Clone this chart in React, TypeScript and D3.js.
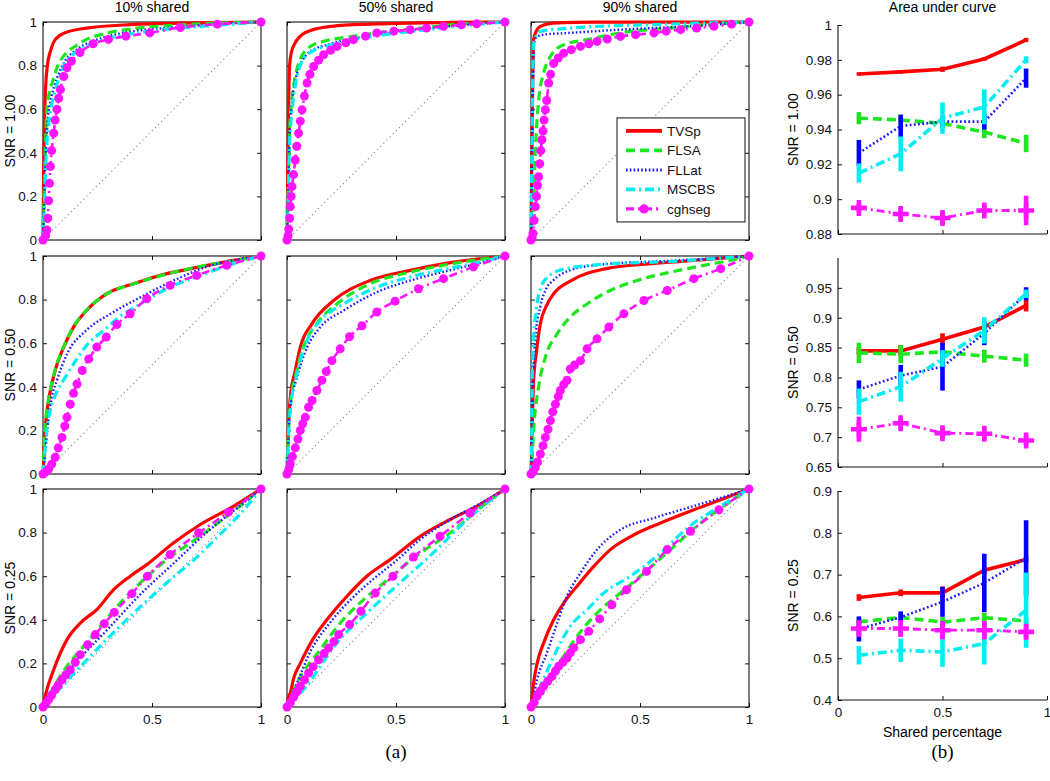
import React, { useEffect, useRef } from 'react';
import * as d3 from 'd3';

const WIDTH = 1050;
const HEIGHT = 781;

type Pt = [number, number];

const METHODS = ['TVSp', 'FLSA', 'FLLat', 'MSCBS', 'cghseg'];
const SNR_LABELS = ['SNR = 1.00', 'SNR = 0.50', 'SNR = 0.25'];
const SHARED_TITLES = ['10% shared', '50% shared', '90% shared'];
const ROC_TICKS_X = [0, 0.5, 1];
const ROC_TICKS_Y = [0, 0.2, 0.4, 0.6, 0.8, 1];
const SHARED_PCT = [0.1, 0.3, 0.5, 0.7, 0.9];
const AUC_TICKS_X = [0, 0.5, 1];
const AUC_YLIM: Pt[] = [[0.88, 1], [0.65, 1], [0.4, 0.9]];
const AUC_TICKS_Y = [
  [0.88, 0.9, 0.92, 0.94, 0.96, 0.98, 1],
  [0.65, 0.7, 0.75, 0.8, 0.85, 0.9, 0.95],
  [0.4, 0.5, 0.6, 0.7, 0.8, 0.9],
];

// ROC curves (false positive rate, true positive rate), one list per method
// order: TVSp, FLSA, FLLat, MSCBS, cghseg
const ROC_100_10: Pt[][] = [
  [[0,0],[0.003,0.3],[0.007,0.55],[0.012,0.7],[0.02,0.8],[0.034,0.865],[0.056,0.919],[0.1,0.95],[0.2,0.972],[0.4,0.988],[0.7,0.996],[1,1]],
  [[0,0],[0.005,0.2],[0.012,0.45],[0.018,0.6],[0.03,0.68],[0.045,0.73],[0.064,0.79],[0.1,0.85],[0.15,0.89],[0.2,0.92],[0.3,0.95],[0.42,0.97],[0.6,0.985],[0.8,0.995],[1,1]],
  [[0,0],[0.006,0.2],[0.014,0.42],[0.022,0.55],[0.035,0.64],[0.05,0.7],[0.075,0.77],[0.1,0.82],[0.15,0.87],[0.25,0.92],[0.4,0.955],[0.6,0.975],[0.8,0.99],[1,1]],
  [[0,0],[0.006,0.15],[0.015,0.4],[0.025,0.52],[0.04,0.62],[0.06,0.7],[0.08,0.76],[0.1,0.81],[0.15,0.86],[0.25,0.91],[0.4,0.945],[0.6,0.97],[0.8,0.985],[1,1]],
  [[0,0],[0.012,0.02],[0.018,0.046],[0.022,0.1],[0.026,0.18],[0.03,0.26],[0.034,0.337],[0.04,0.41],[0.049,0.49],[0.056,0.55],[0.064,0.6],[0.072,0.65],[0.08,0.69],[0.095,0.75],[0.11,0.79],[0.13,0.82],[0.17,0.86],[0.23,0.9],[0.3,0.92],[0.38,0.935],[0.49,0.95],[0.63,0.975],[0.8,0.99],[1,1]],
];
const ROC_100_50: Pt[][] = [
  [[0,0],[0.004,0.35],[0.008,0.65],[0.012,0.8],[0.02,0.86],[0.03,0.89],[0.06,0.934],[0.12,0.965],[0.23,0.983],[0.46,0.993],[0.75,0.998],[1,1]],
  [[0,0],[0.006,0.25],[0.012,0.5],[0.02,0.62],[0.038,0.75],[0.061,0.83],[0.107,0.888],[0.168,0.911],[0.3,0.934],[0.46,0.957],[0.61,0.972],[0.76,0.988],[1,1]],
  [[0,0],[0.006,0.25],[0.012,0.48],[0.02,0.6],[0.04,0.74],[0.06,0.8],[0.1,0.86],[0.2,0.9],[0.4,0.94],[0.6,0.965],[0.8,0.985],[1,1]],
  [[0,0],[0.006,0.22],[0.012,0.45],[0.022,0.58],[0.04,0.72],[0.06,0.8],[0.1,0.855],[0.2,0.895],[0.4,0.935],[0.6,0.96],[0.8,0.982],[1,1]],
  [[0,0],[0.005,0.02],[0.008,0.05],[0.012,0.1],[0.015,0.153],[0.019,0.2],[0.023,0.245],[0.03,0.3],[0.038,0.367],[0.045,0.43],[0.053,0.49],[0.061,0.545],[0.069,0.597],[0.08,0.66],[0.092,0.72],[0.105,0.76],[0.122,0.796],[0.145,0.825],[0.168,0.85],[0.2,0.87],[0.229,0.888],[0.27,0.905],[0.305,0.919],[0.36,0.935],[0.412,0.95],[0.49,0.958],[0.565,0.965],[0.64,0.972],[0.718,0.98],[0.8,0.987],[0.87,0.992],[1,1]],
];
const ROC_100_90: Pt[][] = [
  [[0,0],[0.004,0.4],[0.008,0.75],[0.012,0.92],[0.025,0.96],[0.043,0.98],[0.1,0.995],[0.3,0.999],[1,1]],
  [[0,0],[0.006,0.1],[0.012,0.18],[0.02,0.41],[0.035,0.64],[0.058,0.766],[0.089,0.842],[0.15,0.896],[0.257,0.919],[0.41,0.95],[0.64,0.972],[0.87,0.992],[1,1]],
  [[0,0],[0.005,0.4],[0.01,0.75],[0.015,0.9],[0.025,0.93],[0.058,0.942],[0.18,0.95],[0.41,0.965],[0.72,0.98],[1,1]],
  [[0,0],[0.004,0.4],[0.008,0.75],[0.012,0.9],[0.025,0.94],[0.043,0.957],[0.18,0.972],[0.56,0.988],[1,1]],
  [[0,0],[0.005,0.01],[0.009,0.03],[0.014,0.09],[0.02,0.153],[0.025,0.2],[0.03,0.25],[0.035,0.29],[0.04,0.35],[0.045,0.41],[0.05,0.46],[0.055,0.5],[0.06,0.55],[0.066,0.597],[0.072,0.64],[0.081,0.72],[0.09,0.76],[0.104,0.81],[0.125,0.835],[0.15,0.857],[0.185,0.873],[0.227,0.888],[0.265,0.9],[0.303,0.911],[0.35,0.922],[0.41,0.934],[0.48,0.942],[0.564,0.95],[0.62,0.958],[0.686,0.965],[0.76,0.972],[0.839,0.98],[0.92,0.99],[1,1]],
];
const ROC_050_10: Pt[][] = [
  [[0,0],[0.003,0.05],[0.006,0.15],[0.011,0.22],[0.02,0.3],[0.034,0.383],[0.056,0.475],[0.095,0.582],[0.14,0.674],[0.2,0.75],[0.293,0.827],[0.415,0.873],[0.568,0.919],[0.72,0.95],[0.873,0.98],[1,1]],
  [[0,0],[0.003,0.06],[0.006,0.16],[0.011,0.23],[0.02,0.31],[0.034,0.39],[0.056,0.48],[0.095,0.585],[0.14,0.675],[0.2,0.752],[0.293,0.826],[0.415,0.872],[0.568,0.917],[0.72,0.952],[0.873,0.978],[1,1]],
  [[0,0],[0.005,0.05],[0.01,0.1],[0.018,0.18],[0.026,0.26],[0.04,0.35],[0.064,0.43],[0.11,0.55],[0.2,0.66],[0.31,0.735],[0.446,0.81],[0.6,0.888],[0.75,0.95],[0.9,0.985],[1,1]],
  [[0,0],[0.005,0.06],[0.012,0.15],[0.02,0.22],[0.035,0.3],[0.06,0.37],[0.1,0.44],[0.15,0.52],[0.2,0.59],[0.28,0.66],[0.35,0.72],[0.446,0.78],[0.568,0.85],[0.72,0.91],[0.873,0.965],[1,1]],
  [[0,0],[0.013,0.01],[0.026,0.023],[0.04,0.045],[0.056,0.077],[0.07,0.12],[0.087,0.168],[0.1,0.22],[0.11,0.26],[0.125,0.32],[0.14,0.37],[0.156,0.413],[0.18,0.475],[0.21,0.528],[0.247,0.582],[0.29,0.628],[0.339,0.686],[0.4,0.735],[0.476,0.804],[0.583,0.865],[0.705,0.911],[0.843,0.957],[1,1]],
];
const ROC_050_50: Pt[][] = [
  [[0,0],[0.003,0.12],[0.008,0.25],[0.015,0.35],[0.038,0.475],[0.061,0.582],[0.115,0.69],[0.214,0.796],[0.382,0.888],[0.565,0.934],[0.763,0.972],[1,1]],
  [[0,0],[0.004,0.12],[0.008,0.22],[0.015,0.32],[0.038,0.444],[0.076,0.582],[0.137,0.69],[0.229,0.78],[0.382,0.873],[0.565,0.926],[0.779,0.968],[1,1]],
  [[0,0],[0.004,0.1],[0.008,0.2],[0.015,0.3],[0.046,0.444],[0.092,0.58],[0.153,0.674],[0.26,0.75],[0.412,0.834],[0.595,0.896],[0.779,0.942],[0.92,0.978],[1,1]],
  [[0,0],[0.004,0.1],[0.008,0.2],[0.015,0.29],[0.046,0.46],[0.092,0.613],[0.153,0.704],[0.26,0.78],[0.412,0.857],[0.595,0.911],[0.779,0.95],[0.916,0.98],[1,1]],
  [[0,0],[0.008,0.02],[0.015,0.046],[0.025,0.08],[0.038,0.12],[0.05,0.16],[0.061,0.2],[0.072,0.23],[0.084,0.26],[0.099,0.306],[0.115,0.337],[0.137,0.383],[0.16,0.43],[0.18,0.47],[0.206,0.52],[0.244,0.574],[0.287,0.63],[0.344,0.68],[0.412,0.743],[0.496,0.793],[0.603,0.85],[0.718,0.896],[0.855,0.95],[1,1]],
];
const ROC_050_90: Pt[][] = [
  [[0,0],[0.003,0.1],[0.005,0.2],[0.008,0.32],[0.012,0.43],[0.025,0.56],[0.043,0.69],[0.07,0.77],[0.104,0.827],[0.18,0.885],[0.334,0.94],[0.564,0.966],[0.793,0.983],[1,1]],
  [[0,0],[0.005,0.07],[0.012,0.2],[0.035,0.4],[0.066,0.536],[0.12,0.643],[0.18,0.72],[0.257,0.78],[0.364,0.842],[0.487,0.888],[0.64,0.926],[0.793,0.957],[0.93,0.983],[1,1]],
  [[0,0],[0.004,0.2],[0.01,0.45],[0.02,0.62],[0.043,0.77],[0.07,0.85],[0.104,0.89],[0.18,0.935],[0.334,0.962],[0.64,0.978],[1,1]],
  [[0,0],[0.003,0.2],[0.006,0.45],[0.012,0.62],[0.025,0.76],[0.043,0.85],[0.073,0.9],[0.15,0.94],[0.334,0.962],[0.64,0.975],[1,1]],
  [[0,0],[0.01,0.01],[0.02,0.03],[0.03,0.055],[0.043,0.092],[0.055,0.13],[0.066,0.168],[0.078,0.205],[0.089,0.245],[0.1,0.285],[0.112,0.32],[0.125,0.355],[0.135,0.383],[0.15,0.41],[0.165,0.43],[0.18,0.482],[0.2,0.5],[0.227,0.52],[0.257,0.574],[0.303,0.62],[0.357,0.674],[0.426,0.735],[0.518,0.796],[0.625,0.842],[0.747,0.896],[0.87,0.942],[1,1]],
];
const ROC_025_10: Pt[][] = [
  [[0,0],[0.008,0.04],[0.018,0.08],[0.049,0.171],[0.11,0.309],[0.171,0.385],[0.247,0.447],[0.324,0.538],[0.4,0.6],[0.476,0.653],[0.598,0.752],[0.72,0.836],[0.873,0.92],[1,1]],
  [[0,0],[0.034,0.064],[0.11,0.187],[0.186,0.278],[0.263,0.37],[0.354,0.477],[0.446,0.569],[0.568,0.676],[0.72,0.783],[0.873,0.898],[1,1]],
  [[0,0],[0.05,0.07],[0.15,0.2],[0.3,0.36],[0.45,0.52],[0.6,0.66],[0.75,0.8],[0.9,0.92],[1,1]],
  [[0,0],[0.11,0.12],[0.263,0.28],[0.415,0.43],[0.568,0.57],[0.72,0.7],[0.8,0.78],[0.9,0.88],[1,1]],
  [[0,0],[0.013,0.015],[0.026,0.034],[0.04,0.055],[0.056,0.08],[0.07,0.1],[0.087,0.125],[0.105,0.148],[0.125,0.171],[0.148,0.205],[0.171,0.24],[0.205,0.286],[0.24,0.332],[0.281,0.382],[0.327,0.434],[0.408,0.52],[0.479,0.6],[0.583,0.699],[0.714,0.798],[0.85,0.893],[1,1]],
];
const ROC_025_50: Pt[][] = [
  [[0,0],[0.005,0.04],[0.015,0.064],[0.03,0.13],[0.061,0.2],[0.122,0.316],[0.183,0.4],[0.275,0.508],[0.366,0.6],[0.473,0.676],[0.611,0.783],[0.748,0.86],[0.87,0.92],[1,1]],
  [[0,0],[0.046,0.11],[0.153,0.263],[0.244,0.385],[0.351,0.492],[0.443,0.569],[0.611,0.706],[0.748,0.798],[0.885,0.913],[1,1]],
  [[0,0],[0.02,0.05],[0.05,0.12],[0.1,0.24],[0.2,0.39],[0.3,0.5],[0.4,0.59],[0.5,0.67],[0.6,0.76],[0.75,0.86],[0.88,0.93],[1,1]],
  [[0,0],[0.076,0.08],[0.229,0.294],[0.382,0.446],[0.534,0.584],[0.687,0.722],[0.809,0.844],[1,1]],
  [[0,0],[0.015,0.02],[0.03,0.045],[0.045,0.07],[0.061,0.095],[0.08,0.125],[0.099,0.156],[0.12,0.185],[0.145,0.217],[0.17,0.245],[0.191,0.271],[0.215,0.3],[0.237,0.332],[0.287,0.378],[0.339,0.439],[0.405,0.523],[0.486,0.6],[0.58,0.688],[0.702,0.783],[0.84,0.89],[1,1]],
];
const ROC_025_90: Pt[][] = [
  [[0,0],[0.005,0.05],[0.015,0.13],[0.028,0.2],[0.058,0.294],[0.104,0.4],[0.15,0.477],[0.211,0.554],[0.288,0.645],[0.364,0.722],[0.472,0.79],[0.594,0.844],[0.747,0.905],[0.87,0.951],[1,1]],
  [[0,0],[0.043,0.08],[0.12,0.187],[0.211,0.324],[0.303,0.431],[0.41,0.523],[0.518,0.615],[0.64,0.722],[0.778,0.844],[0.916,0.943],[1,1]],
  [[0,0],[0.01,0.04],[0.028,0.125],[0.073,0.248],[0.12,0.385],[0.165,0.508],[0.227,0.615],[0.303,0.722],[0.41,0.813],[0.564,0.867],[0.717,0.913],[0.87,0.959],[1,1]],
  [[0,0],[0.043,0.095],[0.104,0.232],[0.18,0.37],[0.257,0.446],[0.334,0.523],[0.456,0.6],[0.594,0.706],[0.717,0.821],[0.855,0.913],[1,1]],
  [[0,0],[0.014,0.02],[0.028,0.05],[0.043,0.072],[0.058,0.095],[0.077,0.118],[0.096,0.14],[0.112,0.165],[0.127,0.187],[0.146,0.205],[0.165,0.225],[0.18,0.248],[0.196,0.271],[0.227,0.309],[0.265,0.347],[0.315,0.404],[0.371,0.469],[0.438,0.538],[0.53,0.622],[0.625,0.722],[0.732,0.806],[0.862,0.905],[1,1]],
];

const ROC_GRID: Pt[][][][] = [
  [ROC_100_10, ROC_100_50, ROC_100_90],
  [ROC_050_10, ROC_050_50, ROC_050_90],
  [ROC_025_10, ROC_025_50, ROC_025_90],
];

// area under curve vs shared percentage: mean and half-length of error bar
const AUC_100_MEAN = [
  [0.9719, 0.9731, 0.9746, 0.9805, 0.9914],
  [0.9465, 0.9455, 0.9435, 0.9385, 0.932],
  [0.9265, 0.942, 0.9445, 0.9445, 0.9695],
  [0.915, 0.926, 0.9465, 0.953, 0.98],
  [0.895, 0.8915, 0.8892, 0.8935, 0.8935],
];
const AUC_100_ERR = [
  [0.001, 0.001, 0.0015, 0.001, 0.0012],
  [0.0035, 0.003, 0.003, 0.0035, 0.005],
  [0.0075, 0.0065, 0.003, 0.0045, 0.0055],
  [0.0055, 0.01, 0.009, 0.01, 0.002],
  [0.0025, 0.0035, 0.0035, 0.003, 0.0085],
];
const AUC_050_MEAN = [
  [0.8444, 0.8444, 0.8639, 0.8844, 0.9206],
  [0.8411, 0.8389, 0.8428, 0.8356, 0.8289],
  [0.78, 0.803, 0.818, 0.874, 0.94],
  [0.7594, 0.7844, 0.8317, 0.8789, 0.94],
  [0.7133, 0.7233, 0.7067, 0.7056, 0.6944],
];
const AUC_050_ERR = [
  [0.006, 0.01, 0.01, 0.006, 0.01],
  [0.017, 0.015, 0.01, 0.011, 0.011],
  [0.015, 0.018, 0.04, 0.02, 0.011],
  [0.022, 0.025, 0.014, 0.022, 0.007],
  [0.021, 0.011, 0.009, 0.01, 0.008],
];
const AUC_025_MEAN = [
  [0.6452, 0.6564, 0.6564, 0.7105, 0.736],
  [0.587, 0.5975, 0.5863, 0.5967, 0.5895],
  [0.57, 0.598, 0.635, 0.68, 0.74],
  [0.507, 0.519, 0.515, 0.535, 0.615],
  [0.571, 0.571, 0.567, 0.567, 0.563],
];
const AUC_025_ERR = [
  [0.008, 0.008, 0.015, 0.01, 0.008],
  [0.008, 0.008, 0.012, 0.012, 0.008],
  [0.03, 0.014, 0.036, 0.07, 0.09],
  [0.022, 0.028, 0.036, 0.05, 0.09],
  [0.02, 0.02, 0.022, 0.022, 0.018],
];
const AUC_MEANS = [AUC_100_MEAN, AUC_050_MEAN, AUC_025_MEAN];
const AUC_ERRS = [AUC_100_ERR, AUC_050_ERR, AUC_025_ERR];

// layout
const ROC_LEFT = [43, 287, 531];
const ROC_TOP = [22, 256, 489];
const ROC_W = 218;
const ROC_H = 218;
const AUC_LEFT = 838;
const AUC_TOP = [25, 258, 491];
const AUC_W = 209;
const AUC_H = 209;

const SANS = '"Liberation Sans", Arial, Helvetica, sans-serif';
const SERIF = '"Liberation Serif", "DejaVu Serif", serif';

const STYLES = [
  { color: '#ff0000', width: 3.2, dash: null },
  { color: '#1ee61e', width: 3.2, dash: '9,5' },
  { color: '#1a1aff', width: 2.4, dash: '1.6,2.2' },
  { color: '#00eef2', width: 3.2, dash: '9,4,2,4' },
  { color: '#ff14ff', width: 2.6, dash: '8,4,2,4' },
];

type G = d3.Selection<SVGGElement, unknown, null, undefined>;

function styleAxis(g: G) {
  g.select('.domain').remove();
  g.selectAll('.tick line').attr('stroke', '#111').attr('stroke-width', 1);
  g.selectAll('.tick text')
    .attr('fill', '#111')
    .style('font-family', SANS)
    .style('font-size', '13.5px');
}

function drawRoc(root: G, curves: Pt[][], row: number, col: number) {
  const x = d3.scaleLinear().domain([0, 1]).range([ROC_LEFT[col], ROC_LEFT[col] + ROC_W]);
  const y = d3.scaleLinear().domain([0, 1]).range([ROC_TOP[row] + ROC_H, ROC_TOP[row]]);
  const g = root.append('g');
  const fmt = (d: d3.NumberValue) => String(d);

  g.append('rect')
    .attr('x', x(0)).attr('y', y(1))
    .attr('width', ROC_W).attr('height', ROC_H)
    .attr('fill', '#fff').attr('stroke', '#111').attr('stroke-width', 1.1);

  g.append('g').attr('transform', `translate(0,${y(0)})`)
    .call(d3.axisBottom(x).tickValues(ROC_TICKS_X).tickSize(-4).tickPadding(7)
      .tickFormat(row === 2 ? fmt : () => ''))
    .call(styleAxis);
  g.append('g').attr('transform', `translate(0,${y(1)})`)
    .call(d3.axisTop(x).tickValues(ROC_TICKS_X).tickSize(-4).tickFormat(() => ''))
    .call(styleAxis);
  g.append('g').attr('transform', `translate(${x(0)},0)`)
    .call(d3.axisLeft(y).tickValues(ROC_TICKS_Y).tickSize(-4).tickPadding(6)
      .tickFormat(col === 0 ? fmt : () => ''))
    .call(styleAxis);
  g.append('g').attr('transform', `translate(${x(1)},0)`)
    .call(d3.axisRight(y).tickValues(ROC_TICKS_Y).tickSize(-4).tickFormat(() => ''))
    .call(styleAxis);

  g.append('line')
    .attr('x1', x(0)).attr('y1', y(0)).attr('x2', x(1)).attr('y2', y(1))
    .attr('stroke', '#8a8a8a').attr('stroke-width', 1.1).attr('stroke-dasharray', '1.2,3.2');

  const line = d3.line<Pt>().x(d => x(d[0])).y(d => y(d[1])).curve(d3.curveMonotoneX);

  curves.forEach((pts, i) => {
    const s = STYLES[i];
    g.append('path')
      .attr('d', line(pts))
      .attr('fill', 'none')
      .attr('stroke', s.color)
      .attr('stroke-width', s.width)
      .attr('stroke-dasharray', s.dash)
      .attr('stroke-linejoin', 'round');
  });

  // cghseg markers at every ROC point
  g.selectAll('circle.m')
    .data(curves[4])
    .enter()
    .append('circle')
    .attr('cx', d => x(d[0]))
    .attr('cy', d => y(d[1]))
    .attr('r', 4.5)
    .attr('fill', STYLES[4].color);

  if(row === 0) {
    g.append('text')
      .attr('x', x(0.5)).attr('y', 12)
      .attr('text-anchor', 'middle')
      .style('font-family', SANS).style('font-size', '14px')
      .text(SHARED_TITLES[col]);
  }
  if(col === 0) {
    g.append('text')
      .attr('transform', `translate(15,${y(0.5)}) rotate(-90)`)
      .attr('text-anchor', 'middle')
      .style('font-family', SANS).style('font-size', '14px')
      .text(SNR_LABELS[row]);
  }

  if(row === 0 && col === 2) {
    const lw = 128;
    const lh = 104;
    const lx = x(1) - 4 - lw;
    const ly = y(0.56);
    const leg = g.append('g').attr('transform', `translate(${lx},${ly})`);
    leg.append('rect')
      .attr('width', lw).attr('height', lh)
      .attr('fill', '#fff').attr('stroke', '#111').attr('stroke-width', 1);
    METHODS.forEach((m, i) => {
      const s = STYLES[i];
      const cy = 13 + i * 19.5;
      leg.append('line')
        .attr('x1', 9).attr('x2', 45).attr('y1', cy).attr('y2', cy)
        .attr('stroke', s.color).attr('stroke-width', s.width + 0.6)
        .attr('stroke-dasharray', s.dash);
      if(i === 4) {
        leg.append('circle').attr('cx', 27).attr('cy', cy).attr('r', 4.6).attr('fill', s.color);
      }
      leg.append('text')
        .attr('x', 50).attr('y', cy + 5)
        .style('font-family', SANS).style('font-size', '13.5px')
        .attr('fill', '#111')
        .text(m);
    });
  }
}

function drawAuc(root: G, row: number) {
  const x = d3.scaleLinear().domain([0, 1]).range([AUC_LEFT, AUC_LEFT + AUC_W]);
  const y = d3.scaleLinear().domain(AUC_YLIM[row]).range([AUC_TOP[row] + AUC_H, AUC_TOP[row]]);
  const g = root.append('g');
  const fmt = (d: d3.NumberValue) => String(d);
  const means = AUC_MEANS[row];
  const errs = AUC_ERRS[row];

  g.append('line')
    .attr('x1', x(0)).attr('x2', x(0)).attr('y1', y.range()[0]).attr('y2', y.range()[1])
    .attr('stroke', '#111').attr('stroke-width', 1.1);
  g.append('line')
    .attr('x1', x(0)).attr('x2', x(1)).attr('y1', y.range()[0]).attr('y2', y.range()[0])
    .attr('stroke', '#111').attr('stroke-width', 1.1);

  g.append('g').attr('transform', `translate(0,${y.range()[0]})`)
    .call(d3.axisBottom(x).tickValues(AUC_TICKS_X).tickSize(-4).tickPadding(7)
      .tickFormat(row === 2 ? fmt : () => ''))
    .call(styleAxis);
  g.append('g').attr('transform', `translate(${x(0)},0)`)
    .call(d3.axisLeft(y).tickValues(AUC_TICKS_Y[row]).tickSize(-4).tickPadding(6).tickFormat(fmt))
    .call(styleAxis);

  const line = d3.line<number>().x((d, i) => x(SHARED_PCT[i])).y(d => y(d));

  means.forEach((vals, i) => {
    const s = STYLES[i];
    const w = i === 2 ? 2.6 : i === 4 ? 2.8 : 3.6;
    g.append('path')
      .attr('d', line(vals))
      .attr('fill', 'none')
      .attr('stroke', s.color)
      .attr('stroke-width', w)
      .attr('stroke-dasharray', i === 2 ? '1.8,2.4' : s.dash);
    const bars = vals.map((v, j) => ({ x: SHARED_PCT[j], v, e: errs[i][j] }));
    g.selectAll(`line.bar${i}`)
      .data(bars)
      .enter()
      .append('line')
      .attr('x1', d => x(d.x)).attr('x2', d => x(d.x))
      .attr('y1', d => y(d.v - d.e)).attr('y2', d => y(d.v + d.e))
      .attr('stroke', i === 2 ? '#0000ff' : s.color)
      .attr('stroke-width', 4.6);
    if(i === 4) {
      g.selectAll('path.plus')
        .data(bars)
        .enter()
        .append('path')
        .attr('d', d => `M${x(d.x) - 8},${y(d.v)}H${x(d.x) + 8}M${x(d.x)},${y(d.v) - 8}V${y(d.v) + 8}`)
        .attr('stroke', s.color)
        .attr('stroke-width', 4.6)
        .attr('fill', 'none');
    }
  });

  if(row === 0) {
    g.append('text')
      .attr('x', x(0.5)).attr('y', 12)
      .attr('text-anchor', 'middle')
      .style('font-family', SANS).style('font-size', '14px')
      .text('Area under curve');
  }
  if(row === 2) {
    g.append('text')
      .attr('x', x(0.5)).attr('y', y.range()[0] + 37)
      .attr('text-anchor', 'middle')
      .style('font-family', SANS).style('font-size', '14px')
      .text('Shared percentage');
  }
  g.append('text')
    .attr('transform', `translate(${AUC_LEFT - 40},${(y.range()[0] + y.range()[1]) / 2}) rotate(-90)`)
    .attr('text-anchor', 'middle')
    .style('font-family', SANS).style('font-size', '14px')
    .text(SNR_LABELS[row]);
}

export default function App() {
  const ref = useRef<SVGSVGElement>(null);

  useEffect(() => {
    const svg = d3.select(ref.current);
    svg.selectAll('*').remove();
    const root = svg.append('g') as unknown as G;

    ROC_GRID.forEach((rowCurves, r) => {
      rowCurves.forEach((curves, c) => drawRoc(root, curves, r, c));
    });
    [0, 1, 2].forEach(r => drawAuc(root, r));

    root.append('text')
      .attr('x', (ROC_LEFT[0] + ROC_LEFT[2] + ROC_W) / 2).attr('y', 758)
      .attr('text-anchor', 'middle')
      .style('font-family', SERIF).style('font-size', '19px')
      .text('(a)');
    root.append('text')
      .attr('x', AUC_LEFT + AUC_W / 2).attr('y', 758)
      .attr('text-anchor', 'middle')
      .style('font-family', SERIF).style('font-size', '19px')
      .text('(b)');
  }, []);

  return (
    <svg
      ref={ref}
      width={WIDTH}
      height={HEIGHT}
      style={{ position: 'absolute', left: 0, top: 0, background: '#fff' }}
    />
  );
}
